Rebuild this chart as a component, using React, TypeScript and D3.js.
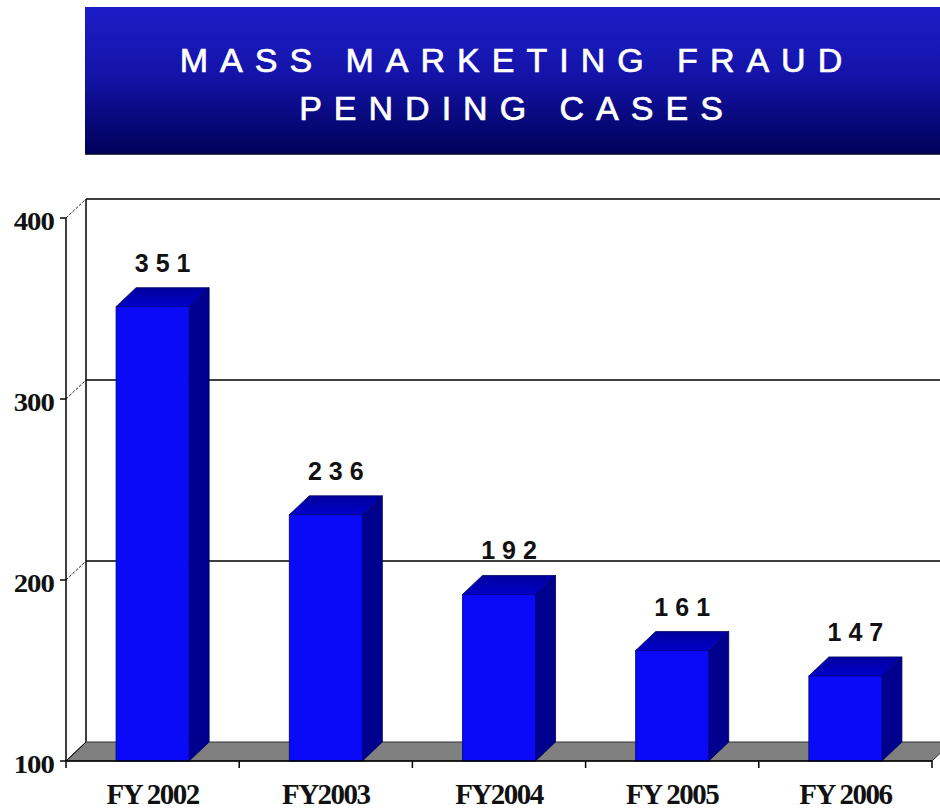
import React from "react";
import * as d3 from "d3";

const categories = ["FY 2002", "FY2003", "FY2004", "FY 2005", "FY 2006"];
const values = [351, 236, 192, 161, 147];
const yTicks = [100, 200, 300, 400];
const titleLines = ["MASS MARKETING FRAUD", "PENDING CASES"];

const W = 940;
const H = 811;
const DX = 20;
const DY = -19;

export default function App() {
  const x = d3
    .scaleBand<string>()
    .domain(categories)
    .range([66, 932])
    .paddingInner(0.578)
    .paddingOuter(0.289);
  const step = x.step();
  const bw = x.bandwidth();
  const y = d3.scaleLinear().domain([100, 400]).range([761, 218]);
  const y0 = y(100);
  const xL = 66;
  const xR = 932;

  const poly = (pts: [number, number][]) => pts.map((p) => p.join(",")).join(" ");

  return (
    <svg
      width={W}
      height={H}
      style={{ position: "absolute", left: 0, top: 0, background: "#fff" }}
    >
      <defs>
        <linearGradient id="banner" x1="0" y1="0" x2="0" y2="1">
          <stop offset="0" stopColor="#1d1dc8" />
          <stop offset="0.45" stopColor="#1414aa" />
          <stop offset="1" stopColor="#00005a" />
        </linearGradient>
        <linearGradient id="topface" x1="0" y1="1" x2="0" y2="0">
          <stop offset="0" stopColor="#0000cc" />
          <stop offset="1" stopColor="#00009c" />
        </linearGradient>
      </defs>

      {/* Title banner */}
      <rect x={85} y={7} width={870} height={147} fill="url(#banner)" />
      <line x1={85} x2={940} y1={154} y2={154} stroke="#000030" strokeWidth={1.5} />
      {titleLines.map((t, i) => (
        <text
          key={t}
          x={511 + 6}
          y={72 + i * 48}
          textAnchor="middle"
          fill="#ffffff"
          stroke="#ffffff"
          strokeWidth={0.7}
          fontFamily="'Liberation Sans', Arial, sans-serif"
          fontSize={34}
          letterSpacing={12}
        >
          {t}
        </text>
      ))}

      {/* Back wall */}
      <line x1={xL + DX} x2={xL + DX} y1={y(400) + DY} y2={y0 + DY} stroke="#000" strokeWidth={1.5} />
      {yTicks
        .filter((t) => t > 100)
        .map((t) => (
          <g key={"g" + t}>
            <line
              x1={xL + DX}
              x2={xR + DX + 10}
              y1={y(t) + DY}
              y2={y(t) + DY}
              stroke="#000"
              strokeWidth={1.6}
            />
            <line
              x1={xL}
              x2={xL + DX}
              y1={y(t)}
              y2={y(t) + DY}
              stroke="#222"
              strokeWidth={1}
              strokeDasharray="3,1.5"
            />
          </g>
        ))}

      {/* Floor */}
      <polygon
        points={poly([
          [xL, y0],
          [xL + DX, y0 + DY],
          [xR + DX, y0 + DY],
          [xR, y0],
        ])}
        fill="#808080"
        stroke="#333"
        strokeWidth={1}
      />

      {/* Bars */}
      {categories.map((c, i) => {
        const x0 = x(c) as number;
        const yt = y(values[i]);
        return (
          <g key={c}>
            <polygon
              points={poly([
                [x0 + bw, yt],
                [x0 + bw + DX, yt + DY],
                [x0 + bw + DX, y0 + DY],
                [x0 + bw, y0],
              ])}
              fill="#00008e"
              stroke="#000050"
              strokeWidth={0.8}
            />
            <polygon
              points={poly([
                [x0, yt],
                [x0 + DX, yt + DY],
                [x0 + bw + DX, yt + DY],
                [x0 + bw, yt],
              ])}
              fill="url(#topface)"
              stroke="#000060"
              strokeWidth={0.8}
            />
            <rect
              x={x0}
              y={yt}
              width={bw}
              height={y0 - yt}
              fill="#0a0af8"
              stroke="#000080"
              strokeWidth={0.8}
            />
            <text
              x={x0 + bw / 2 + DX / 2 + 3.5}
              y={yt + DY - 16}
              textAnchor="middle"
              fontFamily="'Liberation Sans', Arial, sans-serif"
              fontWeight="bold"
              fontSize={25}
              letterSpacing={7}
              fill="#111"
            >
              {values[i]}
            </text>
          </g>
        );
      })}

      {/* Front axes */}
      <line x1={xL} x2={xL} y1={y(400)} y2={y0} stroke="#000" strokeWidth={1.5} />
      <line x1={xL} x2={xR} y1={y0} y2={y0} stroke="#000" strokeWidth={1.5} />
      <line x1={xL} x2={xL + DX} y1={y0} y2={y0 + DY} stroke="#000" strokeWidth={1} />
      {yTicks.map((t) => (
        <g key={"t" + t}>
          <line x1={60} x2={xL} y1={y(t)} y2={y(t)} stroke="#000" strokeWidth={1.5} />
          <text
            transform={`translate(54,${y(t) + 12}) scale(1.15,1)`}
            textAnchor="end"
            fontFamily="'Liberation Serif', 'Times New Roman', serif"
            fontWeight="bold"
            fontSize={25}
            letterSpacing={-0.8}
            fill="#111"
          >
            {t}
          </text>
        </g>
      ))}
      {d3.range(categories.length + 1).map((k) => (
        <line
          key={"xt" + k}
          x1={xL + k * step}
          x2={xL + k * step}
          y1={y0}
          y2={y0 + 7}
          stroke="#000"
          strokeWidth={1.5}
        />
      ))}
      {categories.map((c) => (
        <text
          key={"l" + c}
          x={(x(c) as number) + bw / 2}
          y={804}
          textAnchor="middle"
          fontFamily="'Liberation Serif', 'Times New Roman', serif"
          fontWeight="bold"
          fontSize={29}
          letterSpacing={-1.5}
          fill="#111"
        >
          {c}
        </text>
      ))}
    </svg>
  );
}
